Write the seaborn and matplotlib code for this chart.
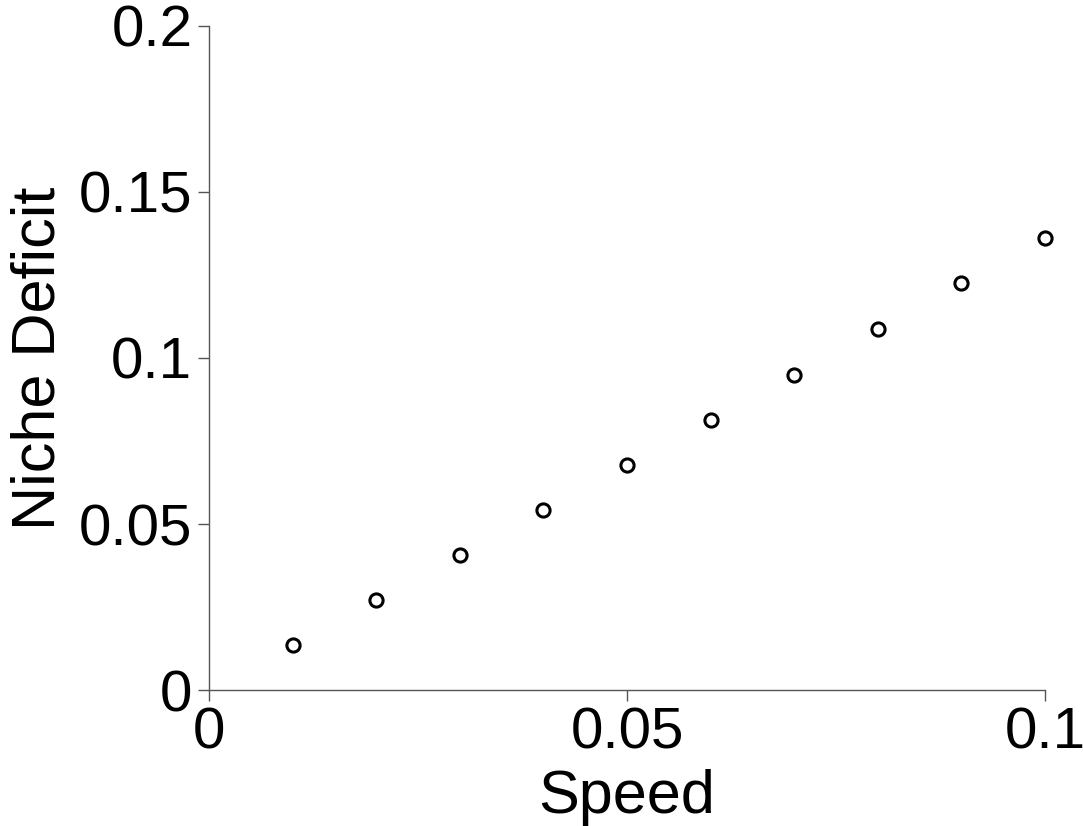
import matplotlib
matplotlib.use("Agg")
import matplotlib.pyplot as plt
import seaborn as sns
import pandas as pd

speed = [0.01, 0.02, 0.03, 0.04, 0.05, 0.06, 0.07, 0.08, 0.09, 0.10]
niche_deficit = [0.0136, 0.0271, 0.0407, 0.0542, 0.0678, 0.0813, 0.0949, 0.1087, 0.1226, 0.1361]
xticks = [0, 0.05, 0.1]
xtick_labels = ["0", "0.05", "0.1"]
yticks = [0, 0.05, 0.1, 0.15, 0.2]
ytick_labels = ["0", "0.05", "0.1", "0.15", "0.2"]

sns.set_style("white")
plt.rcParams['font.family'] = ['Liberation Sans', 'DejaVu Sans']
plt.rcParams['text.color'] = 'black'
plt.rcParams['axes.labelcolor'] = 'black'
plt.rcParams['xtick.labelcolor'] = 'black'
plt.rcParams['ytick.labelcolor'] = 'black'

df = pd.DataFrame({"Speed": speed, "Niche Deficit": niche_deficit})

fig = plt.figure(figsize=(10.83, 8.26), dpi=100)
ax = fig.add_axes([0.193, 0.1646, 0.772, 0.804])
sns.scatterplot(data=df, x="Speed", y="Niche Deficit", ax=ax, marker="o",
                s=90, facecolor="white", edgecolor="black", linewidth=2.2,
                zorder=3, clip_on=False)

ax.set_xlim(0, 0.1)
ax.set_ylim(0, 0.2)
ax.set_xticks(xticks)
ax.set_xticklabels(xtick_labels)
ax.set_yticks(yticks)
ax.set_yticklabels(ytick_labels)
ax.tick_params(axis="both", direction="out", length=8, width=1, color="#555555",
               labelsize=42, pad=4, left=True, bottom=True, labelcolor="black")
for side in ["top", "right"]:
    ax.spines[side].set_visible(False)
for side in ["left", "bottom"]:
    ax.spines[side].set_color("#555555")
    ax.spines[side].set_linewidth(1)
ax.set_xlabel("Speed", fontsize=44, labelpad=6, color="black")
ax.set_ylabel("Niche Deficit", fontsize=44, labelpad=8, color="black")
ax.grid(False)

fig.savefig("out.png", dpi=100, facecolor="white")
